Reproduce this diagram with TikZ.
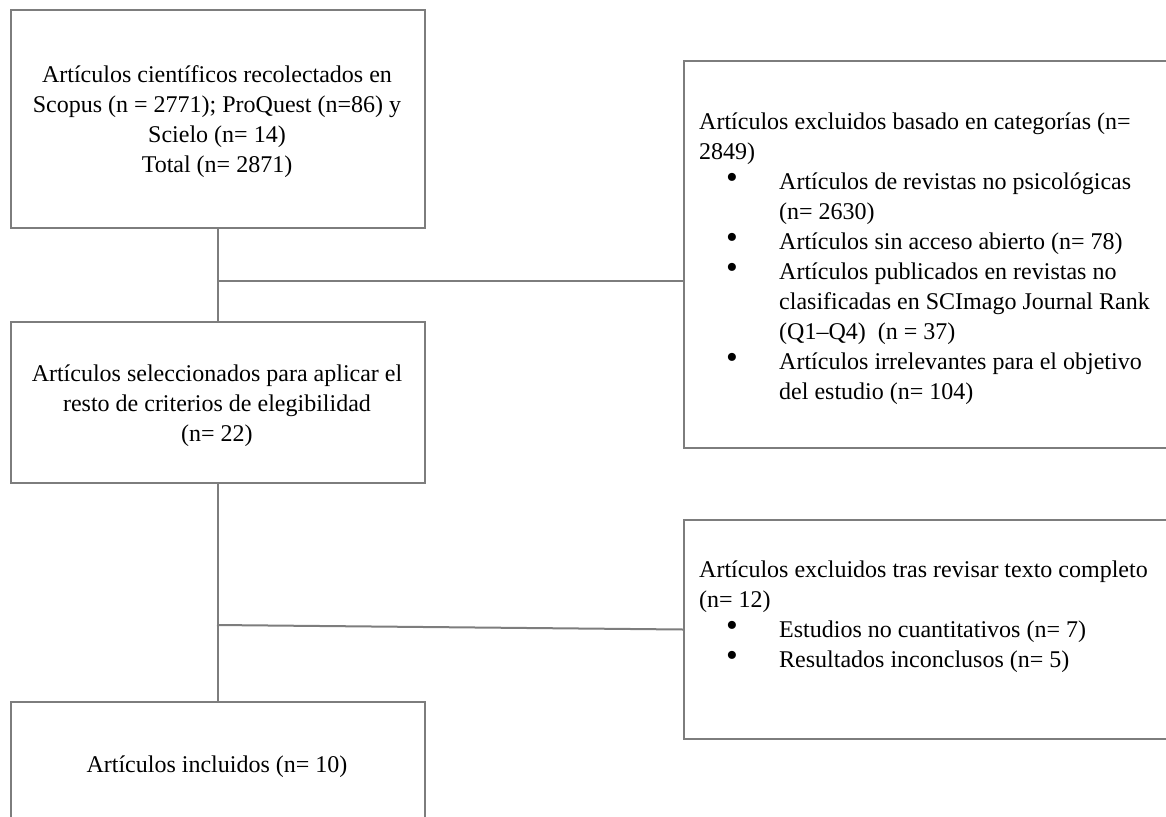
\documentclass[tikz,border=0pt]{standalone}
\usepackage{fontspec}
\setmainfont{Liberation Serif}
\definecolor{linegray}{RGB}{125,125,125}
\newcommand{\bl}[1]{\hspace*{27pt}\makebox[53pt][l]{\smash{\raisebox{1pt}{\scalebox{1.4}{\textbullet}}}}#1}
\newcommand{\ct}[1]{\hspace*{80pt}#1}
\begin{document}
\begin{tikzpicture}[x=1pt,y=-1pt,
  box/.style={draw=linegray, line width=2pt, rectangle, inner sep=0pt},
  txt/.style={font=\fontsize{24}{30}\selectfont, inner sep=0pt, text=black},
  conn/.style={draw=linegray, line width=2pt}]
\useasboundingbox (0,0) rectangle (1166,816);
\clip (0,0) rectangle (1166,816);
% left column boxes
\node[box, minimum width=414pt, minimum height=218pt, anchor=north west] (b1) at (10,9) {};
\node[txt, align=center] (b1t) at (217,122) {Artículos científicos recolectados en\\Scopus (n = 2771); ProQuest (n=86) y\\Scielo (n= 14)\\Total (n= 2871)};
\node[box, minimum width=414pt, minimum height=161pt, anchor=north west] (b2) at (10,321) {};
\node[txt, align=center] (b2t) at (217,406) {Artículos seleccionados para aplicar el\\resto de criterios de elegibilidad\\(n= 22)};
\node[box, minimum width=414pt, minimum height=130pt, anchor=north west] (b3) at (10,701) {};
\node[txt] (b3t) at (217,767) {Artículos\ incluidos (n= 10)};
% right column boxes
\node[box, minimum width=500pt, minimum height=387pt, anchor=north west] (ex1) at (683,60) {};
\node[txt, align=left, anchor=north west] (ex1t) at (699,113) {Artículos excluidos basado en categorías (n=\\2849)\\
\bl{Artículos de revistas no psicológicas}\\
\ct{(n= 2630)}\\
\bl{Artículos sin acceso abierto (n= 78)}\\
\bl{Artículos publicados en revistas no}\\
\ct{clasificadas en SCImago Journal Rank}\\
\ct{(Q1--Q4)\ \ (n = 37)}\\
\bl{Artículos irrelevantes para el objetivo}\\
\ct{del estudio (n= 104)}};
\node[box, minimum width=500pt, minimum height=219pt, anchor=north west] (ex2) at (683,519) {};
\node[txt, align=left, anchor=north west] (ex2t) at (699,561) {Artículos excluidos tras revisar texto completo\\(n= 12)\\
\bl{Estudios no cuantitativos (n= 7)}\\
\bl{Resultados inconclusos (n= 5)}};
% connectors
\coordinate (j1) at (217,281);
\coordinate (j2) at (217,625);
\draw[conn] (b1.south) -- (b2.north);
\draw[conn] (b2.south) -- (b3.north);
\draw[conn] (j1) -- (j1 -| ex1.west);
\draw[conn] (j2) -- (ex2.west);
\end{tikzpicture}
\end{document}
